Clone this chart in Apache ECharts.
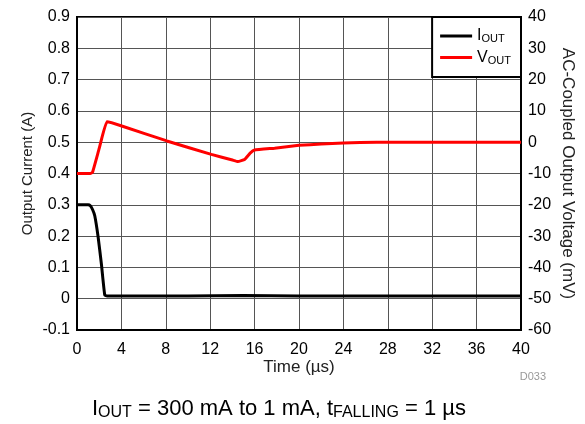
<!DOCTYPE html>
<html>
<head>
<meta charset="utf-8">
<script src="https://cdn.jsdelivr.net/npm/echarts@6/dist/echarts.min.js"></script>
<style>
  html, body { margin: 0; padding: 0; background: #fff; }
  #chart { width: 585px; height: 424px; }
</style>
</head>
<body>
<div id="chart"></div>
<script>
// output current (A) vs time (us)
var ioutTime  = [0, 1.0, 1.2, 1.4, 1.6, 1.9, 2.2, 2.5, 2.7, 6, 10, 15, 20, 25, 30, 35, 40];
var ioutValue = [0.3, 0.3, 0.297, 0.285, 0.265, 0.198, 0.11, 0.012, 0.009, 0.009, 0.009, 0.01, 0.009, 0.009, 0.009, 0.009, 0.009];

// AC-coupled output voltage (mV) vs time (us)
var voutTime  = [0, 1.2, 1.4, 2.0, 2.7, 4.1, 8.1, 12.1, 14.0, 14.5, 15.1, 15.6, 16.0, 17.8, 20, 22, 24, 27, 30, 35, 40];
var voutValue = [-10, -10, -9.6, -2, 6.5, 5.1, 0.4, -3.9, -5.7, -6.2, -5.5, -3.5, -2.5, -1.9, -1.0, -0.6, -0.25, 0, 0, 0, 0];

var xTicks = {min: 0, max: 40, interval: 4};
var leftTicks = {min: -0.1, max: 0.9, interval: 0.1};
var rightTicks = {min: -60, max: 40, interval: 10};

function pairs(xs, ys) {
    var out = [];
    for (var i = 0; i < xs.length; i++) {
        out.push([xs[i], ys[i]]);
    }
    return out;
}

var myChart = echarts.init(document.getElementById('chart'), null, {renderer: 'canvas'});

var font = 'Liberation Sans, Arial, sans-serif';
var gridColor = '#555';

var option = {
    animation: false,
    textStyle: {fontFamily: font},
    grid: {
        left: 77, right: 64, top: 17, bottom: 94,
        containLabel: false,
        outerBoundsMode: 'none',
        show: true,
        borderColor: '#000',
        borderWidth: 2,
        backgroundColor: 'transparent'
    },
    legend: {
        orient: 'vertical',
        right: 64,
        top: 17,
        backgroundColor: '#fff',
        borderColor: '#000',
        borderWidth: 2,
        borderRadius: 0,
        padding: [11, 10, 11, 8],
        itemGap: 5,
        itemWidth: 32,
        itemHeight: 3,
        icon: 'rect',
        data: ['IOUT', 'VOUT'],
        formatter: function (name) {
            return '{m|' + name.charAt(0) + '}{s|' + name.slice(1) + '}';
        },
        textStyle: {
            color: '#000',
            rich: {
                m: {fontSize: 16, lineHeight: 17, fontFamily: font, color: '#000'},
                s: {fontSize: 11, lineHeight: 11, verticalAlign: 'bottom', fontFamily: font, color: '#000'}
            }
        }
    },
    xAxis: {
        type: 'value',
        min: xTicks.min, max: xTicks.max, interval: xTicks.interval,
        name: 'Time (µs)',
        nameLocation: 'middle',
        nameGap: 29,
        nameMoveOverlap: false,
        nameTextStyle: {fontSize: 17, color: '#222', fontFamily: font},
        axisLine: {show: true, onZero: false, lineStyle: {color: '#000', width: 2}},
        axisTick: {show: false},
        axisLabel: {fontSize: 16, color: '#000', margin: 12, fontFamily: font},
        splitLine: {show: true, lineStyle: {color: gridColor, width: 1}}
    },
    yAxis: [
        {
            type: 'value',
            min: leftTicks.min, max: leftTicks.max, interval: leftTicks.interval,
            name: 'Output Current (A)',
            nameLocation: 'middle',
            nameGap: 42,
            nameMoveOverlap: false,
            nameRotate: 90,
            nameTextStyle: {fontSize: 15, color: '#222', fontFamily: font},
            axisLine: {show: true, onZero: false, lineStyle: {color: '#000', width: 2}},
            axisTick: {show: false},
            axisLabel: {
                fontSize: 16, color: '#000', margin: 7, fontFamily: font,
                formatter: function (v) { return String(Math.round(v * 10) / 10); }
            },
            splitLine: {show: true, lineStyle: {color: gridColor, width: 1}}
        },
        {
            type: 'value',
            position: 'right',
            min: rightTicks.min, max: rightTicks.max, interval: rightTicks.interval,
            name: 'AC-Coupled Output Voltage (mV)',
            nameLocation: 'middle',
            nameGap: 38,
            nameMoveOverlap: false,
            nameRotate: -90,
            nameTextStyle: {fontSize: 17, color: '#222', fontFamily: font},
            axisLine: {show: true, onZero: false, lineStyle: {color: '#000', width: 2}},
            axisTick: {show: false},
            axisLabel: {fontSize: 16, color: '#000', margin: 7, fontFamily: font},
            splitLine: {show: false}
        }
    ],
    series: [
        {
            name: 'IOUT',
            type: 'line',
            yAxisIndex: 0,
            showSymbol: false,
            symbol: 'none',
            smooth: 0.15,
            lineStyle: {color: '#000', width: 3},
            itemStyle: {color: '#000'},
            data: pairs(ioutTime, ioutValue),
            z: 3
        },
        {
            name: 'VOUT',
            type: 'line',
            yAxisIndex: 1,
            showSymbol: false,
            symbol: 'none',
            smooth: 0.1,
            lineStyle: {color: '#ff0000', width: 3},
            itemStyle: {color: '#ff0000'},
            data: pairs(voutTime, voutValue),
            z: 3
        }
    ],
    graphic: [
        {
            type: 'text',
            right: 39,
            top: 371,
            style: {text: 'D033', fontSize: 11, fill: '#999', fontFamily: font}
        },
        {
            type: 'text',
            left: 92,
            top: 398,
            style: {
                text: '{m|I}{s|OUT}{m| = 300 mA to 1 mA, t}{s|FALLING}{m| = 1 µs}',
                fill: '#000',
                rich: {
                    m: {fontSize: 22, lineHeight: 24, fontFamily: font, fill: '#000'},
                    s: {fontSize: 16, lineHeight: 16, verticalAlign: 'bottom', fontFamily: font, fill: '#000'}
                }
            }
        }
    ]
};

myChart.setOption(option);
</script>
</body>
</html>
